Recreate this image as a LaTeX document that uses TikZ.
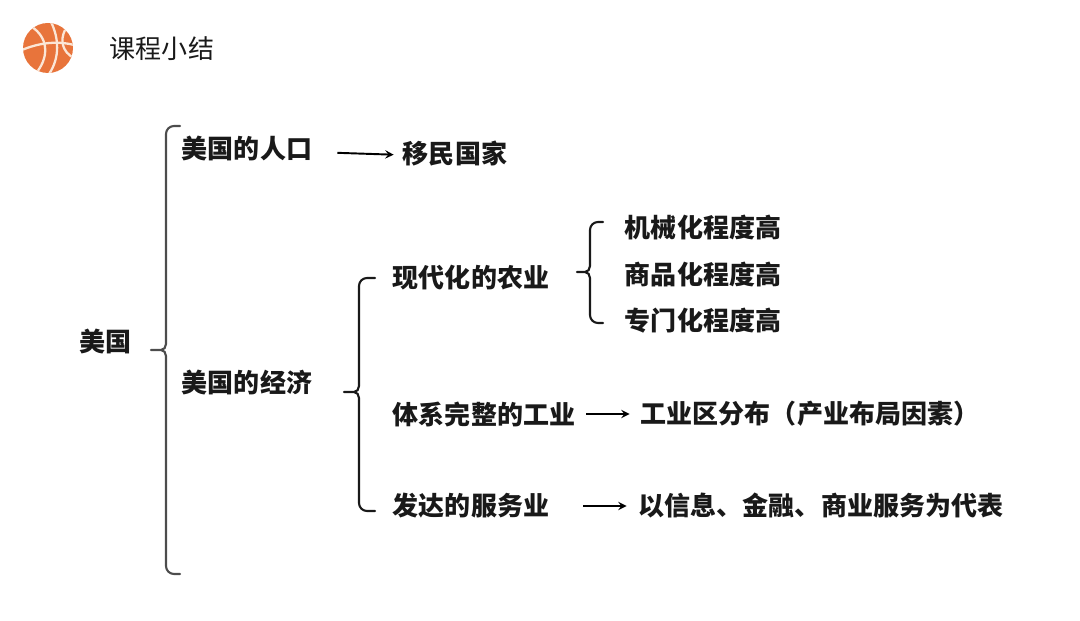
\documentclass[tikz,border=0pt]{standalone}
\usepackage{fontspec}
\setmainfont{Noto Sans CJK SC}
\definecolor{ballorange}{HTML}{E8743B}
\definecolor{ballline}{HTML}{FBE6D6}
\tikzset{
	label/.style={inner sep=0pt, font=\fontsize{14.8pt}{16pt}\selectfont\bfseries, text=black!90},
	titlelabel/.style={inner sep=0pt, font=\fontsize{14.8pt}{16pt}\selectfont, text=black!90},
	link/.style={->, >=stealth, line width=1.1pt, black},
	brace/.style={line width=1.2pt, line cap=round, black!90},
}
% end x, spine x, top y, tip x, tip y, bottom y
\newcommand{\leftbrace}[8][]{
	\coordinate (#2top) at (#3, #5);
	\coordinate (#2tip) at (#6, #7);
	\coordinate (#2bottom) at (#3, #8);
	\draw[brace, #1] (#2top) -- (#4+8, #5) to[out=180, in=90] (#4, #5+8) -- (#4, #7-6) to[out=-90, in=0] (#4-5, #7) -- (#2tip)
		(#4-5, #7) to[out=0, in=90] (#4, #7+6) -- (#4, #8-8) to[out=-90, in=180] (#4+8, #8) -- (#2bottom);
}
\begin{document}
\begin{tikzpicture}[x=0.02cm, y=-0.02cm]
	\useasboundingbox (0, 0) rectangle (1080, 621);
	% ball
	\fill[ballorange] (48, 48) circle (25);
	\begin{scope}[ballline, line width=1.3pt]
		\clip (48, 48) circle (25);
		\draw (22, 50) .. controls (36, 44) and (55, 40) .. (74, 45);
		\draw (32, 27) .. controls (47, 37) and (50, 55) .. (37, 72);
		\draw (51, 22) .. controls (59, 38) and (60, 58) .. (49, 74);
		\draw (65, 30) .. controls (60, 40) and (62, 52) .. (74, 58);
	\end{scope}
	\node[titlelabel] (title) at (162, 49) {课程小结};

	\node[label] (usa) at (106, 342) {美国};
	\node[label] (people) at (247, 149) {美国的人口};
	\node[label] (immigrant) at (455, 154) {移民国家};
	\node[label] (economy) at (247, 383) {美国的经济};
	\node[label] (farming) at (471, 278) {现代化的农业};
	\node[label] (industry) at (484, 414) {体系完整的工业};
	\node[label] (service) at (471, 506) {发达的服务业};
	\node[label] (machine) at (703, 228) {机械化程度高};
	\node[label] (goods) at (703, 275) {商品化程度高};
	\node[label] (special) at (703, 321) {专门化程度高};
	\node[label] (region) at (810, 414) {工业区分布（产业布局因素）};
	\node[label] (finance) at (821, 506) {以信息、金融、商业服务为代表};

	\leftbrace[black!70]{big}{180}{166}{126}{151}{350}{574}
	\leftbrace{mid}{375}{359}{278}{344}{392}{511}
	\leftbrace{small}{603}{590}{222}{577}{272}{323}

	\draw[link, shorten <=0.5cm, shorten >=0.18cm] ([yshift=-0.06cm]people.east) -- ([yshift=-0.02cm]immigrant.west);
	\draw[link, shorten <=0.22cm, shorten >=0.22cm] (industry) -- (region);
	\draw[link, shorten <=0.68cm, shorten >=0.24cm] (service) -- (finance);
\end{tikzpicture}
\end{document}
